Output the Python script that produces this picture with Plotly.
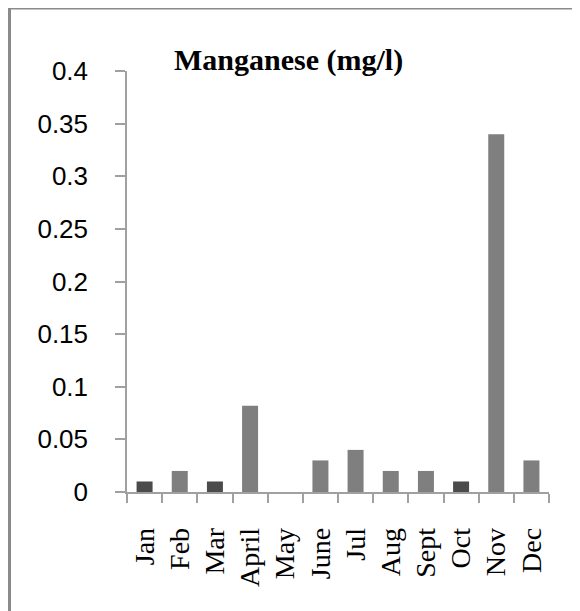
import plotly.graph_objects as go

months = ["Jan", "Feb", "Mar", "April", "May", "June", "Jul", "Aug", "Sept", "Oct", "Nov", "Dec"]
manganese = [0.01, 0.02, 0.01, 0.082, 0.0, 0.03, 0.04, 0.02, 0.02, 0.01, 0.34, 0.03]
dark_months = ["Jan", "Mar", "Oct"]
y_ticks = [0, 0.05, 0.1, 0.15, 0.2, 0.25, 0.3, 0.35, 0.4]
y_tick_labels = ["0", "0.05", "0.1", "0.15", "0.2", "0.25", "0.3", "0.35", "0.4"]

colors = ["#4b4b4b" if m in dark_months else "#7f7f7f" for m in months]

# page has an 8px body margin; figure coordinates = page - 8
W, H = 572, 603
L, R, T, B = 119, 31, 63, 119
pw, ph = W - L - R, H - T - B


def px_x(x):
    return (x - L) / pw


def px_y(y):
    return (H - B - y) / ph


fig = go.Figure(go.Bar(
    x=months, y=manganese,
    marker=dict(color=colors, line=dict(width=0)),
))

fig.update_layout(
    width=W, height=H,
    margin=dict(l=L, r=R, t=T, b=B, pad=0),
    paper_bgcolor="white", plot_bgcolor="white",
    bargap=0.545, showlegend=False,
    annotations=[dict(
        text="<b>Manganese (mg/l)</b>", xref="paper", yref="paper",
        x=px_x(164), y=px_y(52), xanchor="left", yanchor="middle",
        showarrow=False,
        font=dict(family="Liberation Serif, Times New Roman, serif", size=30, color="black"),
    )],
    shapes=[
        dict(type="line", xref="paper", yref="paper",
             x0=px_x(-2), x1=px_x(W + 5), y0=px_y(0), y1=px_y(0),
             line=dict(color="#8a8a8a", width=3)),
        dict(type="line", xref="paper", yref="paper",
             x0=px_x(1.5), x1=px_x(1.5), y0=px_y(-1), y1=px_y(H + 5),
             line=dict(color="#8a8a8a", width=3)),
    ],
)

fig.update_yaxes(
    range=[0, 0.4], tickvals=y_ticks, ticktext=y_tick_labels,
    showgrid=False, zeroline=False,
    showline=True, linecolor="#a0a0a0", linewidth=1.5,
    ticks="outside", ticklen=10, tickcolor="#a0a0a0", tickwidth=1.5,
    ticklabelstandoff=22,
    tickfont=dict(family="Liberation Sans, Arial, sans-serif", size=26, color="black"),
)
fig.update_xaxes(
    type="category", tickangle=-90, tickson="boundaries",
    showgrid=False, zeroline=False,
    showline=True, linecolor="#a0a0a0", linewidth=1.5,
    ticks="outside", ticklen=9, tickcolor="#a0a0a0", tickwidth=1.5,
    ticklabelstandoff=23,
    tickfont=dict(family="Liberation Serif, Times New Roman, serif", size=28, color="black"),
)

fig.write_html("out.html")
